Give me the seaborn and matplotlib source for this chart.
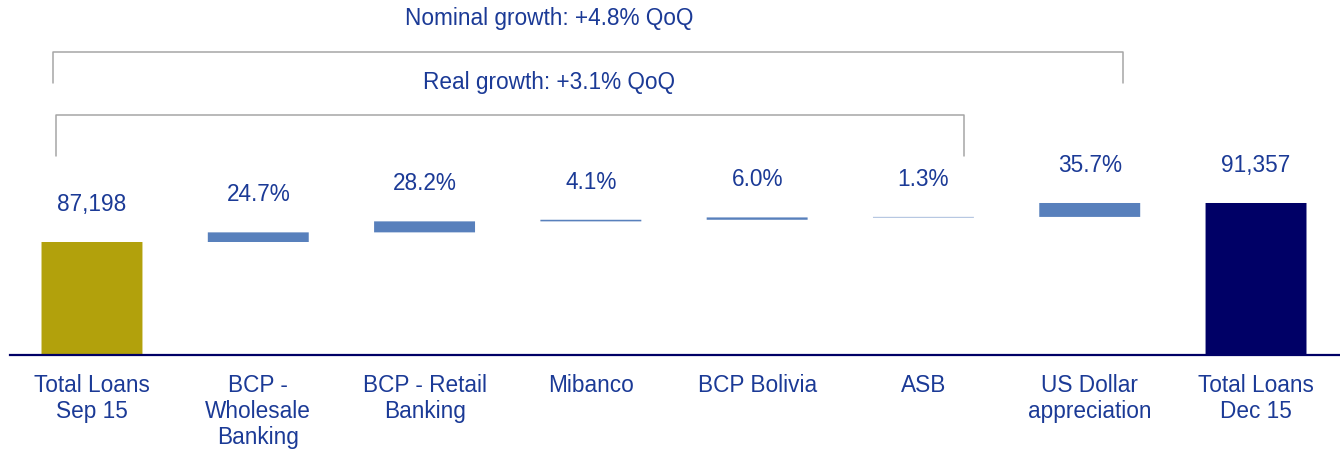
import numpy as np
import seaborn as sns
from matplotlib import pyplot as plt

# data
categories = [
    "Total Loans\nSep 15",
    "BCP -\nWholesale\nBanking",
    "BCP - Retail\nBanking",
    "Mibanco",
    "BCP Bolivia",
    "ASB",
    "US Dollar\nappreciation",
    "Total Loans\nDec 15",
]
total_start = 87198
total_end = 91357
contribution_pct = [24.7, 28.2, 4.1, 6.0, 1.3, 35.7]
nominal_label = "Nominal growth: +4.8% QoQ"
real_label = "Real growth: +3.1% QoQ"

OLIVE = "#B2A10C"
BLUE = "#5880BC"
NAVY = "#000066"
TEXT = "#1B3A96"
GRAY = "#A6A6A6"
FS = 16.3

sns.set_theme(style="white")
plt.rcParams["font.family"] = ["Liberation Sans", "DejaVu Sans"]

# waterfall steps: each contribution is a share of the total change
step_names = categories[1:-1]
deltas = np.array(contribution_pct) / 100 * (total_end - total_start)
tops = total_start + np.cumsum(deltas)
bases = tops - deltas

fig = plt.figure(figsize=(13.4, 4.49), dpi=100)
ax = fig.add_axes([10 / 1340, 1 - 355 / 449, 1330 / 1340, 355 / 449])

bar_kws = dict(order=categories, width=0.607, saturation=1, errorbar=None,
               linewidth=0, snap=False, ax=ax)
sns.barplot(x=[categories[0]], y=[total_start], color=OLIVE, **bar_kws)
sns.barplot(x=step_names, y=deltas, bottom=bases, color=BLUE, **bar_kws)
sns.barplot(x=[categories[-1]], y=[total_end], color=NAVY, **bar_kws)

# value labels above each bar
label_tops = [total_start] + list(tops) + [total_end]
label_txt = [f"{total_start:,}"] + [f"{p:.1f}%" for p in contribution_pct] + [f"{total_end:,}"]
for i, (top, txt) in enumerate(zip(label_tops, label_txt)):
    ax.annotate(txt, (i, top), xytext=(0, 27), textcoords="offset points",
                ha="center", va="center", fontsize=FS, color=TEXT)

ax.set_xlim(-0.493, 7.505)
ax.set_ylim(75150, 113000)
ax.set_xlabel("")
ax.set_ylabel("")
ax.set_yticks([])
ax.tick_params(axis="x", length=0, pad=13.5, labelsize=FS, labelcolor=TEXT)
for t in ax.get_xticklabels():
    t.set_linespacing(1.17)

sns.despine(ax=ax, left=True)
ax.spines["bottom"].set_color(NAVY)
ax.spines["bottom"].set_linewidth(1.6)


def draw_bracket(x0, x1, y_top, y_leg):
    ax.plot([x0, x0, x1, x1], [y_leg, y_top, y_top, y_leg], transform=ax.transAxes,
            clip_on=False, color=GRAY, lw=1.1, solid_joinstyle="round")


draw_bracket(0.0321, 0.8368, 0.8535, 0.7662)
draw_bracket(0.0346, 0.7173, 0.676, 0.5606)
ax.text(0.4053, 0.949, nominal_label, transform=ax.transAxes, ha="center", va="center",
        fontsize=FS, color=TEXT)
ax.text(0.4053, 0.769, real_label, transform=ax.transAxes, ha="center", va="center",
        fontsize=FS, color=TEXT)

fig.savefig("out.png", dpi=100)
